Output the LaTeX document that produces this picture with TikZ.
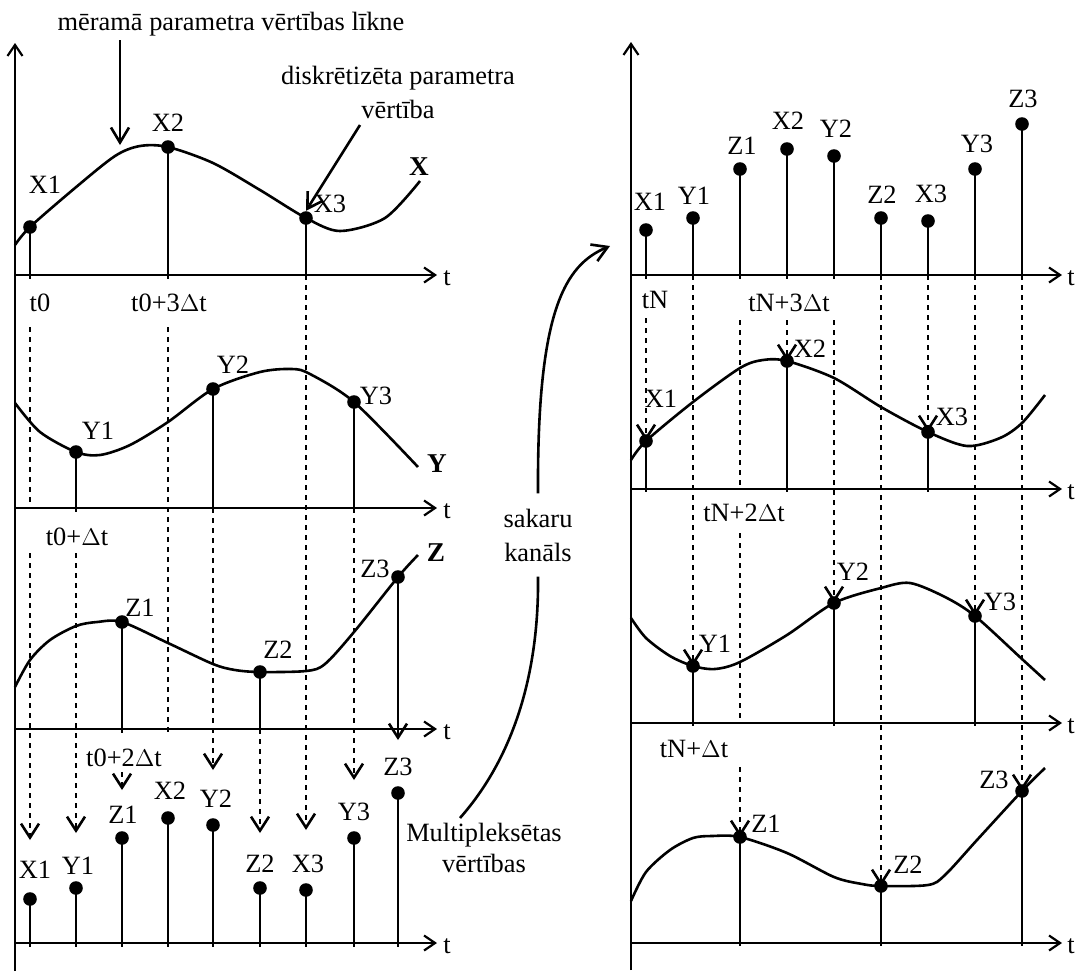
\documentclass[tikz,border=0pt]{standalone}
\usepackage{fontspec}
\setmainfont{Liberation Serif}
\usetikzlibrary{arrows.meta}

\tikzset{
  lbl/.style={font=\fontsize{13.2}{15.5}\selectfont, inner sep=0pt},
  boldlbl/.style={font=\fontsize{13.6}{15.5}\selectfont\bfseries, inner sep=0pt},
  curve/.style={line width=1.3pt, line join=round},
  stem/.style={line width=1.3pt},
  guide/.style={line width=1.3pt, dash pattern=on 2.6pt off 2.4pt},
  dropto/.style={guide, -{Straight Barb[length=7pt,width=9pt]}},
  solidto/.style={line width=1.3pt, -{Straight Barb[length=7pt,width=9pt]}},
  axisline/.style={line width=1.1pt, -{Straight Barb[length=5.5pt,width=7.5pt]}},
  pointer/.style={line width=1.3pt, -{Straight Barb[length=7.5pt,width=9pt]}},
  dot/.style={circle, fill=black, minimum size=6.8pt, inner sep=0pt},
}

\begin{document}
\begin{tikzpicture}[x=0.5pt,y=-0.5pt]
\useasboundingbox (0,0) rectangle (1078,971);

% ---------------- left column: sampled signals X, Y, Z ----------------
\draw[axisline] (15,971) -- (15,43);
\foreach \ay in {275,508,729,943}{
  \draw[axisline] (15,\ay) -- (437,\ay);
  \node[lbl] at (447,\ay+3) {t};
}

% sample points
\node[dot] (lx1) at (30,227) {};
\node[dot] (lx2) at (168,147) {};
\node[dot] (lx3) at (306,218) {};
\node[dot] (ly1) at (76,452) {};
\node[dot] (ly2) at (213,389) {};
\node[dot] (ly3) at (354,402) {};
\node[dot] (lz1) at (122,622) {};
\node[dot] (lz2) at (260,672) {};
\node[dot] (lz3) at (398,577) {};

% curves
\draw[curve] plot[smooth, tension=0.5] coordinates {(15,245) (lx1.center) (75,188) (115,156) (140,146) (lx2.center) (213,163) (260,190) (lx3.center) (340,231) (385,218) (420,181)};
\draw[curve] plot[smooth, tension=0.5] coordinates {(15,403) (40,432) (ly1.center) (100,455) (130,445) (168,422) (ly2.center) (260,372) (292,369) (310,374) (ly3.center) (418,467)};
\draw[curve] plot[smooth, tension=0.5] coordinates {(15,687) (30,660) (50,640) (76,626) (97,622) (lz1.center) (168,643) (213,664) (235,670) (lz2.center) (306,671) (325,664) (354,632) (lz3.center) (418,555)};

% stems
\draw[stem] (lx1.center) -- (30,279);
\draw[stem] (lx2.center) -- (168,279);
\draw[stem] (lx3.center) -- (306,279);
\draw[stem] (ly1.center) -- (76,512);
\draw[stem] (ly2.center) -- (213,512);
\draw[stem] (ly3.center) -- (354,512);
\draw[stem] (lz1.center) -- (122,733);
\draw[stem] (lz2.center) -- (260,733);

% labels
\node[lbl] at (45,185) {X1};
\node[lbl] at (168,123) {X2};
\node[lbl] at (330,204) {X3};
\node[boldlbl] at (419,167) {X};
\node[lbl] at (98,431) {Y1};
\node[lbl] at (233,365) {Y2};
\node[lbl] at (376,396) {Y3};
\node[boldlbl] at (437,464) {Y};
\node[lbl] at (140,608) {Z1};
\node[lbl] at (278,650) {Z2};
\node[lbl] at (375,569) {Z3};
\node[boldlbl] at (436,553) {Z};
\node[lbl] at (40,303) {t0};
\node[lbl] at (169,303) {t0+3$\Delta$t};
\node[lbl] at (77,537) {t0+$\Delta$t};
\node[lbl] at (124,758) {t0+2$\Delta$t};

% multiplexed sequence
\node[dot] (mx1) at (30,899) {};
\node[dot] (my1) at (76,888) {};
\node[dot] (mz1) at (122,838) {};
\node[dot] (mx2) at (168,818) {};
\node[dot] (my2) at (213,825) {};
\node[dot] (mz2) at (260,888) {};
\node[dot] (mx3) at (306,890) {};
\node[dot] (my3) at (354,838) {};
\node[dot] (mz3) at (398,793) {};
\foreach \n/\x in {mx1/30,my1/76,mz1/122,mx2/168,my2/213,mz2/260,mx3/306,my3/354,mz3/398}
  \draw[stem] (\n.center) -- (\x,947);
\node[lbl] at (35,870) {X1};
\node[lbl] at (78,866) {Y1};
\node[lbl] at (123,815) {Z1};
\node[lbl] at (170,791) {X2};
\node[lbl] at (216,799) {Y2};
\node[lbl] at (260,864) {Z2};
\node[lbl] at (308,864) {X3};
\node[lbl] at (354,812) {Y3};
\node[lbl] at (398,767) {Z3};

% sampling guides onto the multiplexed axis
\draw[guide] (30,327) -- (30,508);
\draw[dropto] (30,553) -- (30,840);
\draw[dropto] (76,553) -- (76,833);
\draw[dropto] (122,772) -- (122,790);
\draw[guide] (168,327) -- (168,733);
\draw[dropto] (213,508) -- (213,770);
\draw[dropto] (260,729) -- (260,833);
\draw[dropto] (306,275) -- (306,830);
\draw[dropto] (354,508) -- (354,780);
\draw[solidto] (lz3.center) -- (398,740);

% annotations
\node[lbl] (title) at (231,24) {mēramā parametra vērtības līkne};
\coordinate (curvetop) at (120,145);
\draw[pointer] ([yshift=-2pt]title.south -| curvetop) -- (curvetop);
\node[lbl, align=center, font=\fontsize{13.2}{17}\selectfont] (disk) at (398,92) {diskrētizēta parametra\\vērtība};
\coordinate (diskstart) at (360,125);
\draw[pointer] (diskstart) -- (lx3.north);
\node[lbl, align=center] (mux) at (484,848) {Multipleksētas\\vērtības};

% transmission channel
\node[lbl, align=center, font=\fontsize{13.2}{17}\selectfont, inner ysep=7.5pt] (chan) at (538,535) {sakaru\\kanāls};
\coordinate (chanfoot) at (460,818);
\coordinate (chanhead) at (610,246);
\draw[curve] (chanfoot) .. controls (520,750) and (539,660) .. (chan.south);
\draw[pointer] (chan.north) .. controls (537,310) and (565,265) .. (chanhead);

% ---------------- right column: received and demultiplexed ----------------
\draw[axisline] (631,970) -- (631,42);
\foreach \ay in {275,489,723,943}{
  \draw[axisline] (631,\ay) -- (1062,\ay);
  \node[lbl] at (1071,\ay+3) {t};
}

% received sequence
\node[dot] (sx1) at (646,230) {};
\node[dot] (sy1) at (693,218) {};
\node[dot] (sz1) at (740,169) {};
\node[dot] (sx2) at (787,149) {};
\node[dot] (sy2) at (834,156) {};
\node[dot] (sz2) at (881,218) {};
\node[dot] (sx3) at (928,221) {};
\node[dot] (sy3) at (975,169) {};
\node[dot] (sz3) at (1022,124) {};
\foreach \n/\x in {sx1/646,sy1/693,sz1/740,sx2/787,sy2/834,sz2/881,sx3/928,sy3/975,sz3/1022}
  \draw[stem] (\n.center) -- (\x,279);
\node[lbl] at (650,202) {X1};
\node[lbl] at (694,196) {Y1};
\node[lbl] at (742,146) {Z1};
\node[lbl] at (788,121) {X2};
\node[lbl] at (836,129) {Y2};
\node[lbl] at (882,195) {Z2};
\node[lbl] at (931,194) {X3};
\node[lbl] at (977,144) {Y3};
\node[lbl] at (1023,99) {Z3};
\node[lbl] at (655,300) {tN};
\node[lbl] at (789,303) {tN+3$\Delta$t};
\node[lbl] at (744,513) {tN+2$\Delta$t};
\node[lbl] at (694,749) {tN+$\Delta$t};

% restored samples
\node[dot] (rx1) at (646,441) {};
\node[dot] (rx2) at (787,361) {};
\node[dot] (rx3) at (928,432) {};
\node[dot] (ry1) at (693,666) {};
\node[dot] (ry2) at (834,603) {};
\node[dot] (ry3) at (975,616) {};
\node[dot] (rz1) at (740,837) {};
\node[dot] (rz2) at (881,886) {};
\node[dot] (rz3) at (1022,791) {};

\draw[curve] plot[smooth, tension=0.5] coordinates {(631,460) (rx1.center) (693,402) (740,368) (763,360) (rx2.center) (834,378) (881,407) (rx3.center) (967,446) (1000,438) (1022,423) (1045,395)};
\draw[curve] plot[smooth, tension=0.5] coordinates {(631,618) (646,638) (670,656) (ry1.center) (715,669) (740,662) (787,635) (ry2.center) (881,588) (910,583) (945,597) (ry3.center) (1022,659) (1045,680)};
\draw[curve] plot[smooth, tension=0.5] coordinates {(631,901) (646,872) (670,850) (693,838) (712,836) (rz1.center) (787,853) (834,877) (862,884) (rz2.center) (928,885) (945,875) (977,840) (rz3.center) (1045,768)};

\draw[stem] (rx1.center) -- (646,492);
\draw[stem] (rx2.center) -- (787,492);
\draw[stem] (rx3.center) -- (928,492);
\draw[stem] (ry1.center) -- (693,726);
\draw[stem] (ry2.center) -- (834,726);
\draw[stem] (ry3.center) -- (975,726);
\draw[stem] (rz1.center) -- (740,946);
\draw[stem] (rz2.center) -- (881,946);
\draw[stem] (rz3.center) -- (1022,946);

\node[lbl] at (661,399) {X1};
\node[lbl] at (810,349) {X2};
\node[lbl] at (952,417) {X3};
\node[lbl] at (715,644) {Y1};
\node[lbl] at (853,572) {Y2};
\node[lbl] at (1000,602) {Y3};
\node[lbl] at (766,824) {Z1};
\node[lbl] at (908,865) {Z2};
\node[lbl] at (994,780) {Z3};

% demultiplexing guides
\draw[dropto] (646,318) -- (rx1.center);
\draw[dropto] (693,275) -- (ry1.center);
\draw[guide] (740,320) -- (740,486);
\draw[guide] (740,533) -- (740,718);
\draw[dropto] (740,767) -- (rz1.center);
\draw[dropto] (787,320) -- (rx2.center);
\draw[dropto] (834,320) -- (ry2.center);
\draw[dropto] (881,275) -- (rz2.center);
\draw[dropto] (928,275) -- (rx3.center);
\draw[dropto] (975,275) -- (ry3.center);
\draw[dropto] (1022,275) -- (rz3.center);
\end{tikzpicture}
\end{document}
